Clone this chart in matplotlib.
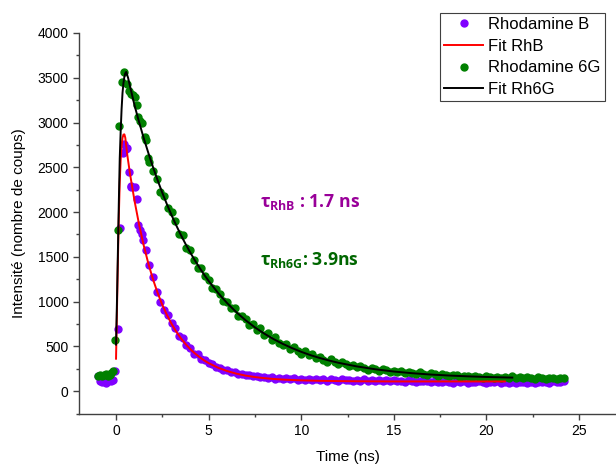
import matplotlib
matplotlib.use("Agg")
import matplotlib.pyplot as plt
from matplotlib.lines import Line2D

# --- data ------------------------------------------------------------------
# measured points around the excitation pulse (pre-zero baseline, rise, peak)
rhb_peak_t = [-0.95, -0.85, -0.75, -0.65, -0.55, -0.45, -0.35, -0.25, -0.15, -0.08,
              0.09, 0.22, 0.36, 0.45, 0.52, 0.72, 0.81, 1.11, 1.3, 1.47]
rhb_peak_i = [165, 118, 102, 108, 96, 112, 130, 110, 120, 228,
              689, 1820, 2661, 2765, 2700, 2449, 2281, 2150, 1805, 1693]

rh6g_peak_t = [-0.95, -0.85, -0.75, -0.65, -0.55, -0.45, -0.35, -0.25, -0.15, -0.04,
               0.12, 0.18, 0.3, 0.45, 0.72, 0.93, 1.11, 1.3, 1.58, 1.71]
rh6g_peak_i = [172, 185, 168, 180, 190, 168, 178, 200, 223, 566,
               1800, 2966, 3449, 3560, 3348, 3311, 3199, 3013, 2839, 2604]

# decay channels shared by both dyes (ns)
t_decay = [0.6, 0.8, 1.0, 1.2, 1.4, 1.6, 1.8, 2.0, 2.2, 2.4,
           2.6, 2.8, 3.0, 3.2, 3.4, 3.6, 3.8, 4.0, 4.2, 4.4,
           4.6, 4.8, 5.0, 5.2, 5.4, 5.6, 5.8, 6.0, 6.2, 6.4,
           6.6, 6.8, 7.0, 7.2, 7.4, 7.6, 7.8, 8.0, 8.2, 8.4,
           8.6, 8.8, 9.0, 9.2, 9.4, 9.6, 9.8, 10.0, 10.2, 10.4,
           10.6, 10.8, 11.0, 11.2, 11.4, 11.6, 11.8, 12.0, 12.2, 12.4,
           12.6, 12.8, 13.0, 13.2, 13.4, 13.6, 13.8, 14.0, 14.2, 14.4,
           14.6, 14.8, 15.0, 15.2, 15.4, 15.6, 15.8, 16.0, 16.2, 16.4,
           16.6, 16.8, 17.0, 17.2, 17.4, 17.6, 17.8, 18.0, 18.2, 18.4,
           18.6, 18.8, 19.0, 19.2, 19.4, 19.6, 19.8, 20.0, 20.2, 20.4,
           20.6, 20.8, 21.0, 21.2, 21.4, 21.6, 21.8, 22.0, 22.2, 22.4,
           22.6, 22.8, 23.0, 23.2, 23.4, 23.6, 23.8, 24.0, 24.2]

rhb_decay = [2716, 2290, 2277, 1860, 1760, 1580, 1414, 1277, 1110, 1000,
             905, 850, 760, 700, 615, 590, 520, 480, 420, 410,
             360, 350, 315, 300, 268, 262, 240, 238, 212, 215,
             195, 190, 178, 182, 165, 170, 155, 160, 145, 155,
             140, 148, 135, 145, 130, 142, 128, 138, 125, 140,
             122, 135, 120, 132, 118, 135, 125, 115, 130, 120,
             128, 112, 126, 118, 130, 110, 124, 115, 128, 112,
             120, 108, 122, 110, 118, 105, 120, 112, 104, 118,
             108, 115, 100, 112, 105, 98, 110, 102, 96, 108,
             100, 112, 95, 105, 98, 110, 100, 94, 106, 98,
             110, 96, 102, 92, 100, 90, 98, 105, 94, 100,
             92, 106, 98, 102, 95, 108, 100, 104, 110]

rh6g_decay = [3430, 3320, 3290, 3060, 2995, 2800, 2560, 2460, 2370, 2220,
              2180, 2046, 2000, 1900, 1760, 1740, 1600, 1575, 1470, 1380,
              1375, 1290, 1245, 1150, 1140, 1090, 1010, 990, 930, 925,
              840, 835, 810, 740, 745, 680, 700, 630, 645, 570,
              600, 540, 515, 530, 470, 490, 445, 420, 445, 400,
              410, 365, 385, 350, 330, 355, 320, 300, 320, 305,
              280, 295, 270, 285, 255, 240, 262, 250, 228, 245,
              232, 215, 230, 210, 222, 200, 212, 205, 190, 208,
              195, 182, 198, 188, 172, 190, 180, 168, 182, 175,
              160, 172, 168, 155, 170, 162, 150, 165, 160, 148,
              162, 150, 158, 145, 165, 152, 160, 145, 158, 150,
              140, 155, 148, 140, 152, 145, 138, 150, 142]

# fitted curves
fit_rhb_t = [0.0, 0.05, 0.1, 0.15, 0.2, 0.25, 0.3, 0.35, 0.4, 0.45, 0.5, 0.6,
             0.75, 1.0, 1.25, 1.5, 1.75, 2.0, 2.25, 2.5, 2.75, 3.0, 3.25, 3.5,
             3.75, 4.0, 4.25, 4.5, 4.75, 5.0, 5.5, 6.0, 6.5, 7.0, 7.5, 8.0,
             8.5, 9.0, 9.5, 10.0, 11.0, 12.0, 13.0, 14.0, 15.0, 16.0, 17.0,
             18.0, 19.0, 20.0, 21.0]
fit_rhb_i = [362, 900, 1450, 1950, 2330, 2580, 2740, 2830, 2865, 2868, 2830, 2650,
             2433, 2124, 1855, 1623, 1421, 1246, 1095, 963, 850, 751, 665, 591,
             527, 471, 423, 381, 344, 313, 262, 224, 195, 173, 157, 145,
             136, 129, 124, 120, 115, 112, 110, 109, 108, 108, 108,
             108, 108, 108, 108]

fit_rh6g_t = [0.0, 0.05, 0.1, 0.15, 0.2, 0.25, 0.3, 0.35, 0.4, 0.45, 0.5, 0.55,
              0.65, 0.75, 1.0, 1.25, 1.5, 1.75, 2.0, 2.25, 2.5, 2.75, 3.0, 3.25,
              3.5, 3.75, 4.0, 4.25, 4.5, 4.75, 5.0, 5.5, 6.0, 6.5, 7.0, 7.5,
              8.0, 8.5, 9.0, 9.5, 10.0, 10.5, 11.0, 11.5, 12.0, 13.0, 14.0,
              15.0, 16.0, 17.0, 18.0, 19.0, 20.0, 21.0, 21.4]
fit_rh6g_i = [520, 1000, 1550, 2100, 2600, 2900, 3150, 3330, 3440, 3510, 3550, 3565,
              3500, 3410, 3191, 3001, 2823, 2657, 2500, 2353, 2215, 2086, 1965, 1852,
              1745, 1645, 1551, 1463, 1381, 1303, 1231, 1099, 983, 881, 791, 712,
              643, 582, 528, 481, 439, 402, 370, 342, 317, 276, 244,
              219, 200, 185, 174, 165, 158, 153, 151]

labels = ["Rhodamine B", "Fit RhB", "Rhodamine 6G", "Fit Rh6G"]
tau_rhb = "1.7 ns"
tau_rh6g = "3.9ns"

PURPLE = "#8000ff"
GREEN = "#008000"
AXIS = "#404040"


def draw_chart():
    plt.rcParams["font.family"] = ["Liberation Sans", "DejaVu Sans"]
    fig = plt.figure(figsize=(6.16, 4.66), dpi=100)
    ax = fig.add_axes([79 / 616, 52.5 / 466, 537 / 616, 380.5 / 466])

    ax.plot(rhb_peak_t + t_decay, rhb_peak_i + rhb_decay, "o", color=PURPLE,
            markersize=5, zorder=2)
    ax.plot(rh6g_peak_t + t_decay, rh6g_peak_i + rh6g_decay, "o", color=GREEN,
            markersize=5, zorder=3)
    ax.plot(fit_rhb_t, fit_rhb_i, color="red", lw=1.4, zorder=4)
    ax.plot(fit_rh6g_t, fit_rh6g_i, color="black", lw=1.4, zorder=5)

    ax.set_xlim(-2, 27)
    ax.set_ylim(-250, 4000)
    ax.set_xticks([0, 5, 10, 15, 20, 25])
    ax.set_xticks([2.5, 7.5, 12.5, 17.5, 22.5], minor=True)
    ax.set_yticks(range(0, 4001, 500))
    ax.set_yticks(range(-250, 4000, 500), minor=True)

    for side in ["top", "right"]:
        ax.spines[side].set_visible(False)
    for side in ["left", "bottom"]:
        ax.spines[side].set_color(AXIS)
        ax.spines[side].set_linewidth(1.0)
    ax.tick_params(which="major", length=4.5, width=1, color=AXIS,
                   labelsize=10, pad=3)
    ax.tick_params(which="minor", length=2.5, width=1, color=AXIS)

    ax.set_xlabel("Time (ns)", fontsize=11, labelpad=9)
    ax.set_ylabel("Intensité (nombre de coups)", fontsize=11, labelpad=8)

    # lifetime annotations
    ax.text(7.75, 2117, r"$\mathregular{\tau_{RhB}}$ : " + tau_rhb,
            family="Open Sans", fontweight="bold", fontsize=12.7,
            color="#990099", va="center", ha="left")
    ax.text(7.75, 1470, r"$\mathregular{\tau_{Rh6G}}$: " + tau_rh6g,
            family="Open Sans", fontweight="bold", fontsize=12.7,
            color="#006600", va="center", ha="left")

    handles = [
        Line2D([], [], ls="none", marker="o", markersize=5, color=PURPLE),
        Line2D([], [], color="red", lw=1.4),
        Line2D([], [], ls="none", marker="o", markersize=5, color=GREEN),
        Line2D([], [], color="black", lw=1.4),
    ]
    leg = ax.legend(handles, labels, loc="upper right",
                    bbox_to_anchor=(605 / 616, 453 / 466),
                    bbox_transform=fig.transFigure, borderaxespad=0,
                    fontsize=12, handlelength=2.35, handletextpad=0.3,
                    borderpad=0.25, labelspacing=0.4, fancybox=False,
                    framealpha=1, numpoints=1)
    leg.get_frame().set_edgecolor(AXIS)
    leg.get_frame().set_linewidth(0.8)
    return fig


def main():
    fig = draw_chart()
    fig.savefig("out.png", dpi=100)


if __name__ == "__main__":
    main()
